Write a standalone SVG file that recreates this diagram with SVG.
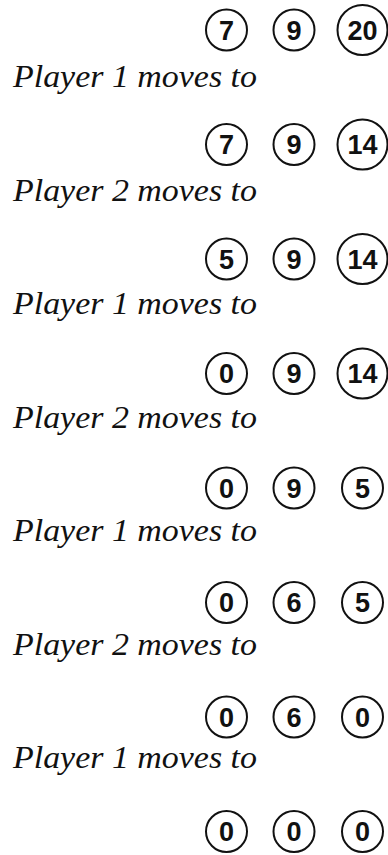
<svg xmlns="http://www.w3.org/2000/svg" width="388" height="855" viewBox="0 0 388 855">
<style>
.c{fill:none;stroke:#111;stroke-width:2}
.n{font-family:"Liberation Sans",Arial,sans-serif;font-weight:bold;font-size:27px;fill:#111;text-anchor:middle}
.l{font-family:"Liberation Serif","Times New Roman",serif;font-style:italic;font-size:31px;fill:#111}
</style>
<rect width="388" height="855" fill="#fff"/>
<g id="row1">
<circle class="c" cx="226.5" cy="30" r="20.5"/><text class="n" x="226.5" y="39.5">7</text>
<circle class="c" cx="294" cy="30" r="20.5"/><text class="n" x="294" y="39.5">9</text>
<circle class="c" cx="362.5" cy="30" r="25"/><text class="n" x="362.5" y="39.5">20</text>
</g>
<text id="label1" class="l" x="13" y="87" textLength="244" lengthAdjust="spacingAndGlyphs">Player 1 moves to</text>
<g id="row2">
<circle class="c" cx="226.5" cy="144.5" r="20.5"/><text class="n" x="226.5" y="154">7</text>
<circle class="c" cx="294" cy="144.5" r="20.5"/><text class="n" x="294" y="154">9</text>
<circle class="c" cx="362.5" cy="144.5" r="25"/><text class="n" x="362.5" y="154">14</text>
</g>
<text id="label2" class="l" x="13" y="200.5" textLength="244" lengthAdjust="spacingAndGlyphs">Player 2 moves to</text>
<g id="row3">
<circle class="c" cx="226.5" cy="259" r="20.5"/><text class="n" x="226.5" y="268.5">5</text>
<circle class="c" cx="294" cy="259" r="20.5"/><text class="n" x="294" y="268.5">9</text>
<circle class="c" cx="362.5" cy="259" r="25"/><text class="n" x="362.5" y="268.5">14</text>
</g>
<text id="label3" class="l" x="13" y="314" textLength="244" lengthAdjust="spacingAndGlyphs">Player 1 moves to</text>
<g id="row4">
<circle class="c" cx="226.5" cy="373.5" r="20.5"/><text class="n" x="226.5" y="383">0</text>
<circle class="c" cx="294" cy="373.5" r="20.5"/><text class="n" x="294" y="383">9</text>
<circle class="c" cx="362.5" cy="373.5" r="25"/><text class="n" x="362.5" y="383">14</text>
</g>
<text id="label4" class="l" x="13" y="427.5" textLength="244" lengthAdjust="spacingAndGlyphs">Player 2 moves to</text>
<g id="row5">
<circle class="c" cx="226.5" cy="488" r="20.5"/><text class="n" x="226.5" y="497.5">0</text>
<circle class="c" cx="294" cy="488" r="20.5"/><text class="n" x="294" y="497.5">9</text>
<circle class="c" cx="362.5" cy="488" r="20.5"/><text class="n" x="362.5" y="497.5">5</text>
</g>
<text id="label5" class="l" x="13" y="541" textLength="244" lengthAdjust="spacingAndGlyphs">Player 1 moves to</text>
<g id="row6">
<circle class="c" cx="226.5" cy="602.5" r="20.5"/><text class="n" x="226.5" y="612">0</text>
<circle class="c" cx="294" cy="602.5" r="20.5"/><text class="n" x="294" y="612">6</text>
<circle class="c" cx="362.5" cy="602.5" r="20.5"/><text class="n" x="362.5" y="612">5</text>
</g>
<text id="label6" class="l" x="13" y="654.5" textLength="244" lengthAdjust="spacingAndGlyphs">Player 2 moves to</text>
<g id="row7">
<circle class="c" cx="226.5" cy="717" r="20.5"/><text class="n" x="226.5" y="726.5">0</text>
<circle class="c" cx="294" cy="717" r="20.5"/><text class="n" x="294" y="726.5">6</text>
<circle class="c" cx="362.5" cy="717" r="20.5"/><text class="n" x="362.5" y="726.5">0</text>
</g>
<text id="label7" class="l" x="13" y="768" textLength="244" lengthAdjust="spacingAndGlyphs">Player 1 moves to</text>
<g id="row8">
<circle class="c" cx="226.5" cy="831.5" r="20.5"/><text class="n" x="226.5" y="841">0</text>
<circle class="c" cx="294" cy="831.5" r="20.5"/><text class="n" x="294" y="841">0</text>
<circle class="c" cx="362.5" cy="831.5" r="20.5"/><text class="n" x="362.5" y="841">0</text>
</g>
<g id="connectors"/>
</svg>
